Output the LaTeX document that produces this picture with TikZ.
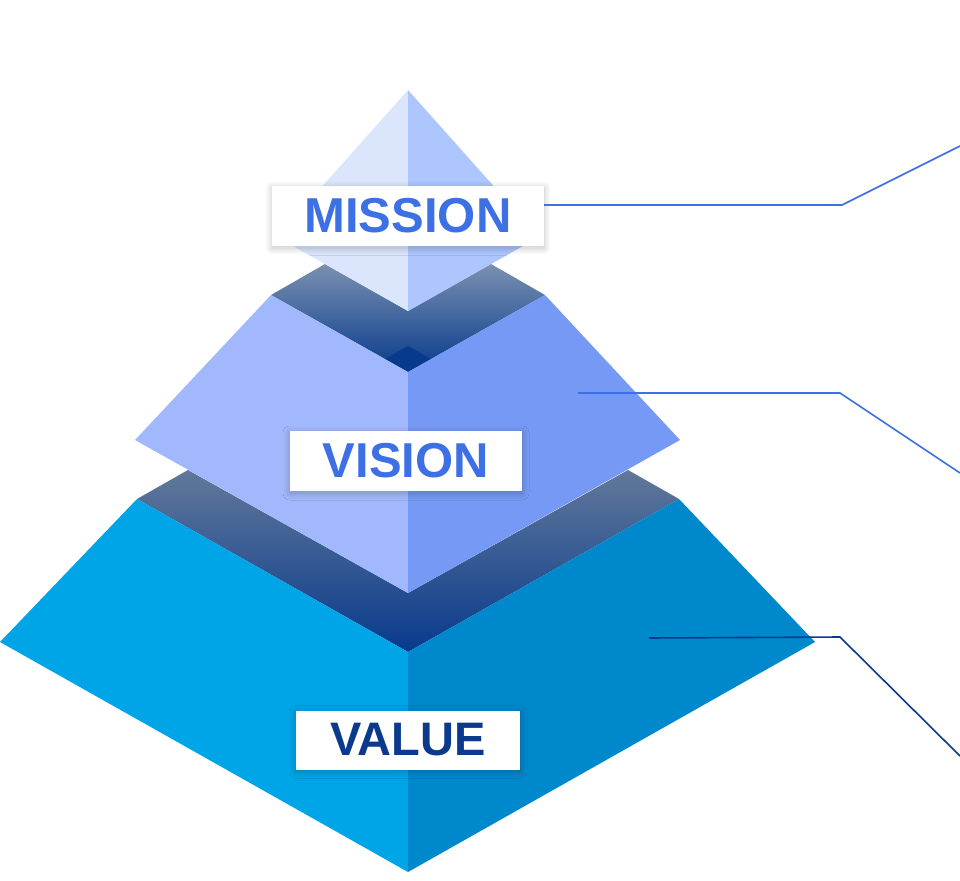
\documentclass[tikz,border=0pt]{standalone}
\usepackage{fontspec}
\setmainfont{Liberation Sans}
\usepackage{tikz}
\usetikzlibrary{positioning, shadows.blur}

\definecolor{missionleft}{HTML}{DBE6FD}
\definecolor{missionright}{HTML}{ADC6FD}
\definecolor{visionleft}{HTML}{A1B9FC}
\definecolor{visionright}{HTML}{7599F4}
\definecolor{valueleft}{HTML}{00A5E8}
\definecolor{valueright}{HTML}{0088CC}
\definecolor{bandtop}{HTML}{7A90B0}
\definecolor{bandlow}{HTML}{62789A}
\definecolor{bandnavy}{HTML}{073A8C}
\definecolor{textblue}{HTML}{3D6FE5}
\definecolor{textnavy}{HTML}{0B3A8C}

\begin{document}
\begin{tikzpicture}[x=1pt, y=-1pt,
	tag/.style={fill=white, inner sep=0pt, font=\bfseries\fontsize{49}{49}\selectfont,
		blur shadow={shadow xshift=0pt, shadow yshift=-2pt, shadow blur radius=7pt, shadow blur steps=24, shadow opacity=24}},
	leader/.style={line width=1.6pt}]

\useasboundingbox (0,0) rectangle (960,880);

% value layer: top face and sides
\shade [top color=bandlow, bottom color=bandnavy]
	(137,499) -- (188,470) -- (408,593) -- (628,470) -- (679,499) -- (408,652) -- cycle;
\fill [valueleft] (0,642) -- (137,499) -- (408,652) -- (408,872) -- cycle;
\fill [valueright] (408,652) -- (679,499) -- (815,642) -- (408,872) -- cycle;

% vision layer: top face and sides
\shade [top color=bandtop, bottom color=bandnavy]
	(271,295) -- (325,264) -- (408,311) -- (491,264) -- (545,295) -- (408,372) -- cycle;
\fill [bandnavy] (385,359) -- (408,346) -- (431,359) -- (408,372) -- cycle;
\fill [visionleft] (135,440) -- (271,295) -- (408,372) -- (408,593) -- cycle;
\fill [visionright] (408,372) -- (545,295) -- (680,440) -- (408,593) -- cycle;

% mission top
\fill [missionleft] (408,90) -- (277,237) -- (408,311) -- cycle;
\fill [missionright] (408,90) -- (539,237) -- (408,311) -- cycle;

% labels
\node [tag, text=textblue, minimum width=272pt, minimum height=60pt] (mission) at (408,216) {MISSION};
\node [tag, text=textblue, minimum width=232pt, minimum height=60pt] (vision) at (406,461) {VISION};
\node [tag, text=textnavy, minimum width=224pt, minimum height=59pt,
	font=\bfseries\fontsize{47}{47}\selectfont] (value) at (408,740) {VALUE};

% leader lines
\coordinate (mbend) at (842,205);
\coordinate (mend) at (960,146);
\coordinate (vstart) at (578,393);
\coordinate (vbend) at (840,393);
\coordinate (vend) at (960,473);
\coordinate (lstart) at (649,638);
\coordinate (lbend) at (840,637);
\coordinate (lend) at (960,756);

\draw [leader, textblue] ([yshift=11pt]mission.east) -- (mbend) -- (mend);
\draw [leader, textblue] (vstart) -- (vbend) -- (vend);
\draw [leader, textnavy] (lstart) -- (lbend) -- (lend);

\end{tikzpicture}
\end{document}
